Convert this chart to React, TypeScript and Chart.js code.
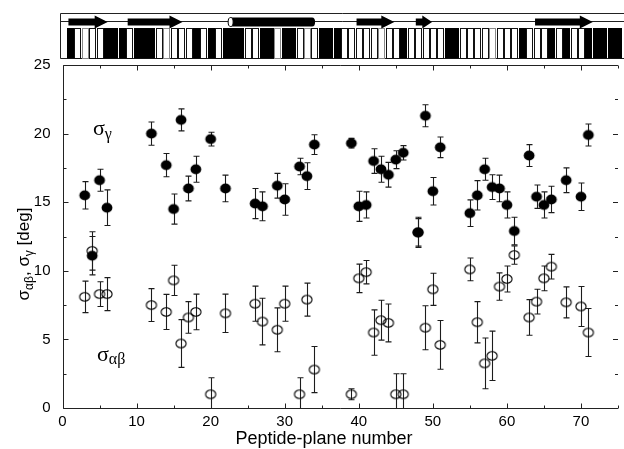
import { useEffect, useRef } from 'react';
import { Chart, registerables } from 'chart.js';

Chart.register(...registerables);

// Peptide-plane numbers (shared by both series)
const planeNumbers = [3, 4, 5, 6, 12, 14, 15, 16, 17, 18, 20, 22, 26, 27, 29, 30, 32, 33, 34, 39, 40, 41, 42, 43, 44, 45, 46, 48, 49, 50, 51, 55, 56, 57, 58, 59, 60, 61, 63, 64, 65, 66, 68, 70, 71];

// sigma_gamma (filled)
const sigmaGamma = [15.5, 11.1, 16.6, 14.6, 20.0, 17.7, 14.5, 21.0, 16.0, 17.4, 19.6, 16.0, 14.9, 14.7, 16.2, 15.2, 17.6, 16.9, 19.2, 19.3, 14.7, 14.8, 18.0, 17.4, 17.0, 18.1, 18.6, 12.8, 21.3, 15.8, 19.0, 14.2, 15.5, 17.4, 16.1, 16.0, 14.8, 12.9, 18.4, 15.4, 14.8, 15.2, 16.6, 15.4, 19.9];
const sigmaGammaErr = [1.0, 1.4, 0.8, 1.3, 0.85, 0.85, 1.1, 0.8, 0.9, 0.95, 0.5, 0.97, 1.1, 1.05, 0.9, 1.15, 0.6, 0.97, 0.72, 0.35, 1.1, 0.95, 0.9, 0.95, 0.9, 0.65, 0.52, 1.1, 0.8, 1.0, 0.75, 0.97, 1.07, 0.8, 0.9, 0.97, 0.95, 1.0, 0.8, 0.85, 0.95, 0.96, 0.9, 1.0, 0.8];

// sigma_alpha-beta (open)
const sigmaAlphaBeta = [8.1, 11.45, 8.3, 8.3, 7.5, 7.0, 9.3, 4.7, 6.6, 7.0, 1.0, 6.9, 7.6, 6.3, 5.7, 7.6, 1.0, 7.9, 2.8, 1.0, 9.45, 9.9, 5.5, 6.4, 6.2, 1.0, 1.0, 12.8, 5.85, 8.65, 4.6, 10.1, 6.25, 3.25, 3.8, 8.85, 9.4, 11.15, 6.6, 7.75, 9.45, 10.3, 7.7, 7.4, 5.5];
const sigmaAlphaBetaErr = [1.15, 1.4, 0.9, 1.2, 1.2, 1.28, 1.1, 1.74, 1.15, 1.3, 1.2, 1.4, 1.28, 1.7, 1.6, 1.28, 1.2, 1.2, 1.68, 0.4, 1.04, 0.85, 1.65, 1.45, 1.38, 1.5, 1.5, 1.0, 1.6, 1.17, 1.78, 0.83, 1.5, 1.85, 1.8, 1.0, 0.95, 0.67, 1.3, 0.9, 0.9, 0.9, 1.13, 1.46, 1.75];

// Top strip: one shaded bar per residue 1..75 (B = black, W = white, G = grey-edged white)
const residueShade = [
  'B', 'W', 'G', 'W', 'W', 'B', 'B', 'B', 'W', 'B',
  'B', 'B', 'W', 'G', 'W', 'W', 'W', 'B', 'W', 'B',
  'W', 'B', 'B', 'B', 'W', 'W', 'B', 'B', 'G', 'B',
  'B', 'W', 'G', 'W', 'B', 'B', 'B', 'W', 'W', 'W',
  'W', 'W', 'G', 'W', 'W', 'B', 'W', 'W', 'W', 'W',
  'W', 'B', 'B', 'W', 'W', 'W', 'W', 'G', 'W', 'W',
  'W', 'B', 'W', 'W', 'W', 'B', 'W', 'B', 'W', 'W',
  'B', 'B', 'B', 'B', 'B',
];
const strandStart = [0.8, 8.8, 39.7, 47.7, 63.8];
const strandEnd = [6.1, 16.2, 44.8, 49.9, 71.6];
const helixStart = [22.7];
const helixEnd = [34.1];

const xTitle = 'Peptide-plane number';

function makeEllipse(rx: number, ry: number, filled: boolean) {
  const c = document.createElement('canvas');
  const w = Math.ceil(rx * 2 + 3);
  const h = Math.ceil(ry * 2 + 3);
  c.width = w;
  c.height = h;
  const g = c.getContext('2d')!;
  g.beginPath();
  g.ellipse(w / 2, h / 2, rx, ry, 0, 0, Math.PI * 2);
  if (filled) {
    g.fillStyle = '#000';
    g.fill();
  } else {
    g.strokeStyle = '#000';
    g.lineWidth = 1.1;
    g.stroke();
  }
  return c;
}

const decorPlugin = {
  id: 'decor',
  beforeDatasetsDraw(chart: any) {
    const { ctx, chartArea: a, scales } = chart;
    const x = scales.x;
    const y = scales.y;
    ctx.save();
    ctx.beginPath();
    ctx.rect(a.left, a.top, a.right - a.left, a.bottom - a.top);
    ctx.clip();
    ctx.strokeStyle = '#1c1c1c';
    ctx.lineWidth = 1.1;
    const drawBars = (ys: number[], es: number[]) => {
      for (let i = 0; i < planeNumbers.length; i++) {
        const px = Math.round(x.getPixelForValue(planeNumbers[i])) + 0.5;
        const t = y.getPixelForValue(ys[i] + es[i]);
        const b = y.getPixelForValue(ys[i] - es[i]);
        ctx.beginPath();
        ctx.moveTo(px, t);
        ctx.lineTo(px, b);
        ctx.moveTo(px - 3, t);
        ctx.lineTo(px + 3, t);
        ctx.moveTo(px - 3, b);
        ctx.lineTo(px + 3, b);
        ctx.stroke();
      }
    };
    drawBars(sigmaGamma, sigmaGammaErr);
    drawBars(sigmaAlphaBeta, sigmaAlphaBetaErr);
    ctx.restore();
  },
  afterDraw(chart: any) {
    const { ctx, chartArea: a, scales } = chart;
    const x = scales.x;
    const y = scales.y;
    ctx.save();
    ctx.strokeStyle = '#222';
    ctx.lineWidth = 1;
    // frame lines
    const L = Math.round(a.left) + 0.5;
    const B = Math.round(a.bottom) + 0.5;
    const T = Math.round(a.top) + 0.5;
    const R = a.right;
    ctx.beginPath();
    ctx.moveTo(L, T);
    ctx.lineTo(L, B);
    ctx.lineTo(R, B);
    ctx.moveTo(L, T);
    ctx.lineTo(R, T);
    ctx.stroke();
    // y ticks (inward, both sides)
    ctx.beginPath();
    for (let v = 0; v <= 25.001; v += 2.5) {
      const py = Math.round(y.getPixelForValue(v)) + 0.5;
      const len = Math.abs(v % 5) < 0.01 ? 5 : 3;
      ctx.moveTo(L, py);
      ctx.lineTo(L + len, py);
      ctx.moveTo(R, py);
      ctx.lineTo(R - len, py);
    }
    // x ticks (inward, top and bottom)
    for (let v = 0; v <= 75.001; v += 5) {
      const px = Math.round(x.getPixelForValue(v)) + 0.5;
      const len = Math.abs(v % 10) < 0.01 ? 5 : 3;
      ctx.moveTo(px, B);
      ctx.lineTo(px, B - len);
      ctx.moveTo(px, T);
      ctx.lineTo(px, T + len);
    }
    ctx.stroke();

    // ---- secondary-structure strip ----
    const sL = Math.round(x.getPixelForValue(-0.35)) + 0.5;
    const sR = 624;
    const sTop = 13.5;
    const sMid = 21.5;
    const sBot = 58.5;
    ctx.beginPath();
    ctx.moveTo(sR, sTop);
    ctx.lineTo(sL, sTop);
    ctx.lineTo(sL, sBot);
    ctx.lineTo(sR, sBot);
    ctx.moveTo(sL, sMid);
    ctx.lineTo(sR, sMid);
    ctx.stroke();
    const barW = x.getPixelForValue(0.78) - x.getPixelForValue(0);
    for (let i = 0; i < residueShade.length; i++) {
      const cx = x.getPixelForValue(i + 1);
      const bx = Math.round(cx - barW / 2) + 0.5;
      const bw = Math.round(barW);
      const s = residueShade[i];
      if (s === 'B') {
        ctx.fillStyle = '#000';
        ctx.fillRect(bx - 0.5, 28, bw + 1, 30.5);
      } else {
        ctx.fillStyle = '#fff';
        ctx.fillRect(bx, 28.5, bw, 30);
        ctx.strokeStyle = s === 'G' ? '#8a8a8a' : '#111';
        ctx.strokeRect(bx, 28.5, bw, 30);
      }
    }
    // strands (arrows)
    ctx.fillStyle = '#000';
    for (let i = 0; i < strandStart.length; i++) {
      const x1 = x.getPixelForValue(strandStart[i]);
      const x2 = x.getPixelForValue(strandEnd[i]);
      const head = Math.min(13, (x2 - x1) * 0.6);
      const cy = 22;
      ctx.beginPath();
      ctx.moveTo(x1, cy - 3.5);
      ctx.lineTo(x2 - head, cy - 3.5);
      ctx.lineTo(x2 - head, cy - 6.5);
      ctx.lineTo(x2, cy);
      ctx.lineTo(x2 - head, cy + 6.5);
      ctx.lineTo(x2 - head, cy + 3.5);
      ctx.lineTo(x1, cy + 3.5);
      ctx.closePath();
      ctx.fill();
    }
    // helix (cylinder)
    for (let i = 0; i < helixStart.length; i++) {
      const x1 = x.getPixelForValue(helixStart[i]);
      const x2 = x.getPixelForValue(helixEnd[i]);
      const cy = 22;
      ctx.fillStyle = '#000';
      ctx.beginPath();
      ctx.moveTo(x1, cy - 4.5);
      ctx.lineTo(x2 - 3, cy - 4.5);
      ctx.ellipse(x2 - 3, cy, 3, 4.5, 0, -Math.PI / 2, Math.PI / 2);
      ctx.lineTo(x1, cy + 4.5);
      ctx.closePath();
      ctx.fill();
      ctx.fillStyle = '#fff';
      ctx.strokeStyle = '#000';
      ctx.beginPath();
      ctx.ellipse(x1, cy, 2.5, 4.5, 0, 0, Math.PI * 2);
      ctx.fill();
      ctx.stroke();
    }

    // ---- labels ----
    ctx.fillStyle = '#000';
    ctx.textBaseline = 'alphabetic';
    ctx.textAlign = 'left';
    const drawParts = (parts: { t: string; size: number; dy: number; fam: string }[], x0: number, y0: number) => {
      let cx = x0;
      for (const p of parts) {
        ctx.font = `${p.size}px "${p.fam}"`;
        ctx.fillText(p.t, cx, y0 + p.dy);
        cx += ctx.measureText(p.t).width;
      }
      return cx - x0;
    };
    drawParts([
      { t: 'σ', size: 22, dy: 0, fam: 'Liberation Serif' },
      { t: 'γ', size: 16, dy: 4, fam: 'Liberation Serif' },
    ], 93, 135);
    drawParts([
      { t: 'σ', size: 22, dy: 0, fam: 'Liberation Serif' },
      { t: 'αβ', size: 16, dy: 3, fam: 'Liberation Serif' },
    ], 97, 361);

    // y-axis title (rotated, with subscripts)
    const titleParts = [
      { t: 'σ', size: 17, dy: 0, fam: 'Liberation Sans' },
      { t: 'αβ', size: 12, dy: 4, fam: 'Liberation Sans' },
      { t: ', σ', size: 17, dy: 0, fam: 'Liberation Sans' },
      { t: 'γ', size: 12, dy: 4, fam: 'Liberation Sans' },
      { t: ' [deg]', size: 17, dy: 0, fam: 'Liberation Sans' },
    ];
    let total = 0;
    for (const p of titleParts) {
      ctx.font = `${p.size}px "${p.fam}"`;
      total += ctx.measureText(p.t).width;
    }
    ctx.save();
    ctx.translate(29, 254);
    ctx.rotate(-Math.PI / 2);
    drawParts(titleParts, -total / 2, 0);
    ctx.restore();

    // x-axis title
    ctx.font = '18px "Liberation Sans"';
    ctx.textAlign = 'center';
    ctx.fillText(xTitle, 324, 444);
    ctx.restore();
  },
};

export default function App() {
  const ref = useRef<HTMLCanvasElement | null>(null);
  useEffect(() => {
    if (!ref.current) return;
    const filled = makeEllipse(5.4, 4.9, true);
    const open = makeEllipse(5.1, 4.3, false);
    const chart = new Chart(ref.current, {
      type: 'scatter',
      data: {
        datasets: [
          {
            label: 'σγ',
            data: planeNumbers.map((n, i) => ({ x: n, y: sigmaGamma[i] })),
            pointStyle: filled as any,
            pointRadius: 5,
            showLine: false,
          },
          {
            label: 'σαβ',
            data: planeNumbers.map((n, i) => ({ x: n, y: sigmaAlphaBeta[i] })),
            pointStyle: open as any,
            pointRadius: 5,
            showLine: false,
          },
        ],
      },
      options: {
        animation: false,
        responsive: false,
        devicePixelRatio: 1,
        layout: { padding: { top: 65, right: 2, left: 0, bottom: 0 } },
        plugins: { legend: { display: false }, tooltip: { enabled: false } },
        scales: {
          x: {
            type: 'linear',
            min: 0,
            max: 75,
            grid: { display: false, drawTicks: false },
            border: { display: false },
            ticks: {
              stepSize: 10,
              includeBounds: false,
              padding: 5,
              color: '#000',
              font: { family: 'Liberation Sans', size: 15 },
            },
            afterFit: (s: any) => {
              s.height = 41;
            },
          },
          y: {
            type: 'linear',
            min: 0,
            max: 25,
            grid: { display: false, drawTicks: false },
            border: { display: false },
            ticks: {
              stepSize: 5,
              padding: 12,
              color: '#000',
              font: { family: 'Liberation Sans', size: 15 },
            },
            afterFit: (s: any) => {
              s.width = 62.5;
            },
          },
        },
      },
      plugins: [decorPlugin],
    });
    return () => chart.destroy();
  }, []);
  return (
    <div style={{ position: 'absolute', left: 0, top: 0, width: 624, height: 449, background: '#fff' }}>
      <canvas ref={ref} width={624} height={449} />
    </div>
  );
}
